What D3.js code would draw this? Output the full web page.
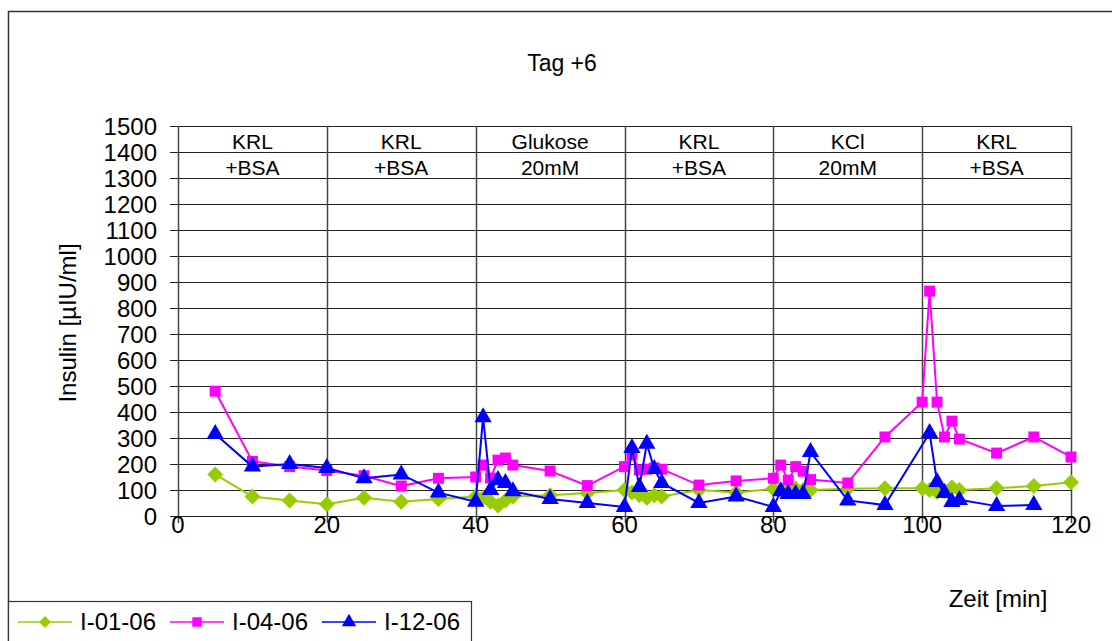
<!DOCTYPE html>
<html>
<head>
<meta charset="utf-8">
<script src="https://cdn.jsdelivr.net/npm/d3@7"></script>
<style>
body { margin: 0; background: #fff; }
text { font-family: "Liberation Sans", Arial, sans-serif; fill: #000; }
</style>
</head>
<body>
<div id="chart"></div>
<script>
// phase labels (one per 20 min block)
var phaseTop = ["KRL", "KRL", "Glukose", "KRL", "KCl", "KRL"];
var phaseBot = ["+BSA", "+BSA", "20mM", "+BSA", "20mM", "+BSA"];
var yTicks = d3.range(0, 1501, 100);
var xTicks = [0, 20, 40, 60, 80, 100, 120];

var seriesNames = ["I-01-06", "I-04-06", "I-12-06"];

var g_time = [5,10,15,20,25,30,35,40,41,42,43,44,45,50,55,60,61,62,63,64,65,70,75,80,81,82,83,84,85,90,95,100,101,102,103,104,105,110,115,120];
var g_val  = [160,75,60,45,70,55,65,75,70,55,40,60,75,80,88,100,90,80,70,80,75,100,90,105,100,100,105,100,100,105,107,107,100,92,95,110,100,107,115,130];

var p_time = [5,10,15,20,25,30,35,40,41,42,43,44,45,50,55,60,61,62,63,64,65,70,75,80,81,82,83,84,85,90,95,100,101,102,103,104,105,110,115,120];
var p_val  = [480,210,190,175,155,115,145,150,196,146,215,223,196,173,117,190,235,177,180,185,180,119,135,145,196,138,190,172,140,127,304,438,865,438,304,365,296,242,304,227];

var b_time = [5,10,15,20,25,30,35,40,41,42,43,44,45,50,55,60,61,62,63,64,65,70,75,80,81,82,83,84,85,90,95,101,102,103,104,105,110,115];
var b_val  = [315,190,200,185,145,160,90,55,380,100,138,127,95,65,50,35,262,112,278,181,127,50,75,35,95,85,85,85,246,60,42,319,131,88,54,62,38,42];

var svg = d3.select("#chart")
    .append("svg")
    .attr("width", 1112)
    .attr("height", 641);

var x = d3.scaleLinear().domain([0, 120]).range([178, 1071]);
var y = d3.scaleLinear().domain([0, 1500]).range([516, 126]);

// outer frame
svg.append("rect")
    .attr("x", 8.5).attr("y", 11.5)
    .attr("width", 1110).attr("height", 640)
    .style("fill", "none").style("stroke", "#333").style("stroke-width", 1.5);

svg.append("text")
    .attr("x", 562).attr("y", 71)
    .attr("text-anchor", "middle")
    .style("font-size", "23px")
    .text("Tag +6");

// horizontal grid
svg.selectAll(".hgrid")
    .data(yTicks)
    .enter()
  .append("line")
    .attr("x1", 170).attr("x2", x(120))
    .attr("y1", function(d){return Math.round(y(d)) + 0.5;})
    .attr("y2", function(d){return Math.round(y(d)) + 0.5;})
    .style("stroke", "#222").style("stroke-width", 1.2);

// vertical lines
svg.selectAll(".vgrid")
    .data(xTicks)
    .enter()
  .append("line")
    .attr("x1", function(d){return Math.round(x(d)) + 0.5;})
    .attr("x2", function(d){return Math.round(x(d)) + 0.5;})
    .attr("y1", y(1500)).attr("y2", y(0) + 7)
    .style("stroke", "#444").style("stroke-width", 1.5);

svg.selectAll(".ylab")
    .data(yTicks)
    .enter()
  .append("text")
    .attr("x", 157)
    .attr("y", function(d){return y(d) + 8.5;})
    .attr("text-anchor", "end")
    .style("font-size", "24px")
    .text(function(d){return d;});

svg.selectAll(".xlab")
    .data(xTicks)
    .enter()
  .append("text")
    .attr("x", function(d){return x(d);})
    .attr("y", 533)
    .attr("text-anchor", "middle")
    .style("font-size", "24px")
    .text(function(d){return d;});

// phase header
svg.selectAll(".ph1")
    .data(phaseTop)
    .enter()
  .append("text")
    .attr("x", function(d, i){return x(i * 20 + 10);})
    .attr("y", y(1450) + 10)
    .attr("text-anchor", "middle")
    .style("font-size", "21px")
    .text(function(d){return d;});

svg.selectAll(".ph2")
    .data(phaseBot)
    .enter()
  .append("text")
    .attr("x", function(d, i){return x(i * 20 + 10);})
    .attr("y", y(1350) + 10)
    .attr("text-anchor", "middle")
    .style("font-size", "21px")
    .text(function(d){return d;});

svg.append("text")
    .attr("transform", "translate(76,323) rotate(-90)")
    .attr("text-anchor", "middle")
    .style("font-size", "24px")
    .text("Insulin [µIU/ml]");

svg.append("text")
    .attr("x", 998).attr("y", 607)
    .attr("text-anchor", "middle")
    .style("font-size", "24px")
    .text("Zeit [min]");

var series = [
    {name: seriesNames[0], t: g_time, v: g_val, color: "#99cc00", shape: d3.symbolDiamond, size: 110},
    {name: seriesNames[1], t: p_time, v: p_val, color: "#ff00ff", shape: d3.symbolSquare, size: 120},
    {name: seriesNames[2], t: b_time, v: b_val, color: "#0000ff", shape: d3.symbolTriangle, size: 130}
];

var line = d3.line()
    .x(function(d){return x(d[0]);})
    .y(function(d){return y(d[1]);});

series.forEach(function(s){
    var pts = d3.zip(s.t, s.v);
    svg.append("path")
        .attr("d", line(pts))
        .style("fill", "none")
        .style("stroke", s.color)
        .style("stroke-width", 2);
    svg.selectAll(".m" + s.name)
        .data(pts)
        .enter()
      .append("path")
        .attr("d", diamondOr(s))
        .attr("transform", function(d){return "translate(" + x(d[0]) + "," + y(d[1]) + ")";})
        .style("fill", s.color);
});

function diamondOr(s){
    if (s.shape == d3.symbolDiamond) return "M0,-8L8,0L0,8L-8,0Z";
    return d3.symbol().type(s.shape).size(s.size)();
}

// legend
svg.append("rect")
    .attr("x", 8.5).attr("y", 601.5)
    .attr("width", 463).attr("height", 50)
    .style("fill", "#fff").style("stroke", "#333").style("stroke-width", 1.2);

var lx = [18, 170, 322];
series.forEach(function(s, i){
    svg.append("line")
        .attr("x1", lx[i]).attr("x2", lx[i] + 54)
        .attr("y1", 622).attr("y2", 622)
        .style("stroke", s.color).style("stroke-width", 1.5);
    svg.append("path")
        .attr("d", s.shape == d3.symbolDiamond ? "M0,-6L6,0L0,6L-6,0Z" : d3.symbol().type(s.shape).size(90)())
        .attr("transform", "translate(" + (lx[i] + 27) + ",622)")
        .style("fill", s.color);
    svg.append("text")
        .attr("x", lx[i] + 62).attr("y", 630)
        .style("font-size", "24px")
        .text(s.name);
});
</script>
</body>
</html>
